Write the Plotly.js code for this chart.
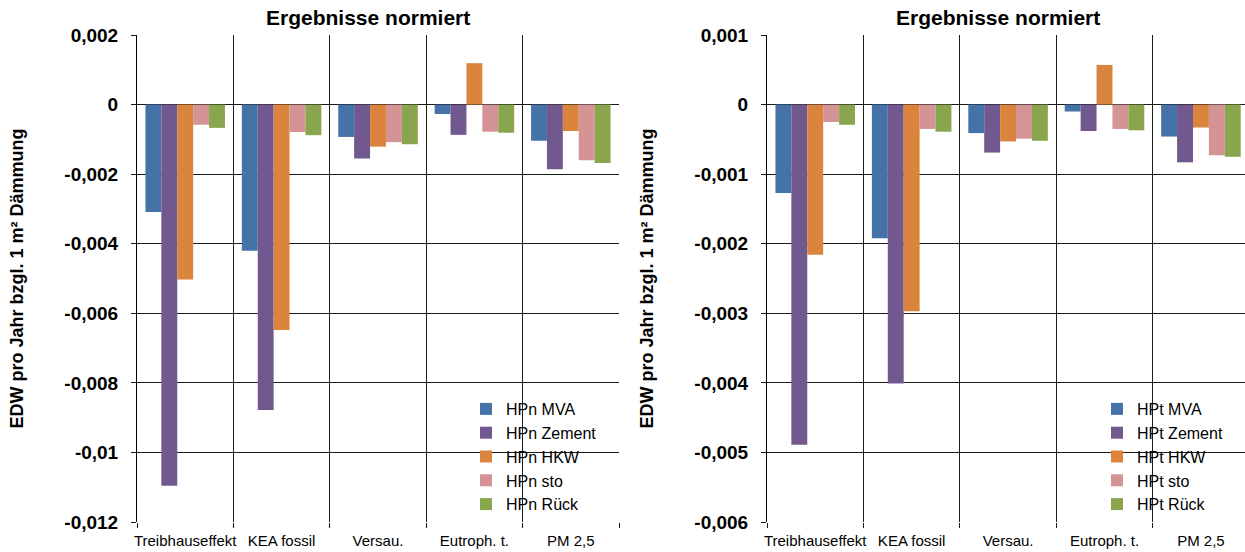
<!DOCTYPE html>
<html>
<head>
<meta charset="utf-8">
<script src="https://cdn.plot.ly/plotly-3.0.1.min.js"></script>
<style>html,body{margin:0;padding:0;background:#fff;}#chart{width:1245px;height:552px;}</style>
</head>
<body>
<div id="chart"></div>
<script>
const categories = ['Treibhauseffekt', 'KEA fossil', 'Versau.', 'Eutroph. t.', 'PM 2,5'];

// Left chart (HPn)
const namesN = ['HPn MVA', 'HPn Zement', 'HPn HKW', 'HPn sto', 'HPn Rück'];
const mvaN    = [-0.00309, -0.00420, -0.00093, -0.00027, -0.00104];
const zementN = [-0.01096, -0.00878, -0.00155, -0.00087, -0.00186];
const hkwN    = [-0.00503, -0.00648, -0.00121,  0.00119, -0.00076];
const stoN    = [-0.00058, -0.00079, -0.00108, -0.00078, -0.00160];
const rueckN  = [-0.00067, -0.00088, -0.00114, -0.00081, -0.00168];

// Right chart (HPt)
const namesT = ['HPt MVA', 'HPt Zement', 'HPt HKW', 'HPt sto', 'HPt Rück'];
const mvaT    = [-0.00127, -0.00192, -0.00041, -0.00010, -0.00046];
const zementT = [-0.00489, -0.00401, -0.00069, -0.00038, -0.00083];
const hkwT    = [-0.00216, -0.00297, -0.00053,  0.00057, -0.00033];
const stoT    = [-0.00025, -0.00035, -0.00049, -0.00035, -0.00073];
const rueckT  = [-0.00029, -0.00039, -0.00052, -0.00037, -0.00075];

// Tick labels
const tickValsN = [0.002, 0, -0.002, -0.004, -0.006, -0.008, -0.01, -0.012];
const tickTextN = ['0,002', '0', '-0,002', '-0,004', '-0,006', '-0,008', '-0,01', '-0,012'];
const tickValsT = [0.001, 0, -0.001, -0.002, -0.003, -0.004, -0.005, -0.006];
const tickTextT = ['0,001', '0', '-0,001', '-0,002', '-0,003', '-0,004', '-0,005', '-0,006'];

const chartTitle = 'Ergebnisse normiert';
const yTitle = 'EDW pro Jahr bzgl. 1 m² Dämmung';

const colors = ['#4572A7', '#71588F', '#DB843D', '#D49394', '#89A54E'];
const FONT = 'Liberation Sans, Arial, sans-serif';

const seriesN = [mvaN, zementN, hkwN, stoN, rueckN];
const seriesT = [mvaT, zementT, hkwT, stoT, rueckT];

const traces = [];
seriesN.forEach((vals, i) => {
  traces.push({
    type: 'bar', x: categories, y: vals, name: namesN[i],
    xaxis: 'x', yaxis: 'y', legend: 'legend',
    marker: {color: colors[i]}
  });
});
seriesT.forEach((vals, i) => {
  traces.push({
    type: 'bar', x: categories, y: vals, name: namesT[i],
    xaxis: 'x2', yaxis: 'y2', legend: 'legend2',
    marker: {color: colors[i]}
  });
});

const L = 137, W = 1245, PW = W - L;
const px = v => (v - L) / PW;

function xAxis(domain, range) {
  return {
    domain: domain, type: 'category', range: range, tickson: 'boundaries',
    showgrid: true, gridcolor: '#1a1a1a', gridwidth: 1,
    ticks: 'outside', ticklen: 5, tickcolor: '#1a1a1a', tickangle: 0,
    ticklabelstandoff: 8,
    showline: false, zeroline: false, fixedrange: true, automargin: false,
    tickfont: {family: FONT, size: 15, color: '#000'}
  };
}
function yAxis(range, vals, text, anchor) {
  return {
    range: range, tickvals: vals, ticktext: text, anchor: anchor,
    showgrid: true, gridcolor: '#1a1a1a', gridwidth: 1,
    zeroline: true, zerolinecolor: '#1a1a1a', zerolinewidth: 1,
    showline: true, linecolor: '#000', linewidth: 1,
    ticks: 'outside', ticklen: 5, tickcolor: '#1a1a1a', ticklabelstandoff: 9,
    tickfont: {family: FONT, size: 19, color: '#000', weight: 'bold'},
    title: {text: yTitle, standoff: 36, font: {family: FONT, size: 18, color: '#000', weight: 'bold'}},
    automargin: false, fixedrange: true
  };
}

const layout = {
  width: 1245, height: 552,
  margin: {l: L, r: 0, t: 35, b: 30, pad: 0},
  paper_bgcolor: '#fff', plot_bgcolor: '#fff',
  barmode: 'group', bargap: 0.175, bargroupgap: 0,
  font: {family: FONT, color: '#000'},
  xaxis: xAxis([0, px(619)], [-0.5, 4.5]),
  yaxis: yAxis([-0.012, 0.002], tickValsN, tickTextN, 'x'),
  xaxis2: xAxis([px(767), 1], [-0.5, 4.457]),
  yaxis2: yAxis([-0.006, 0.001], tickValsT, tickTextT, 'x2'),
  legend: {
    x: px(466), y: (522 - 392) / 487, xanchor: 'left', yanchor: 'top',
    bgcolor: 'rgba(0,0,0,0)', font: {family: FONT, size: 16, color: '#000'}
  },
  legend2: {
    x: px(1097), y: (522 - 392) / 487, xanchor: 'left', yanchor: 'top',
    bgcolor: 'rgba(0,0,0,0)', font: {family: FONT, size: 16, color: '#000'}
  },
  annotations: [
    {text: chartTitle, xref: 'paper', yref: 'paper', x: px(368), y: (522 - 18) / 487,
     xanchor: 'center', yanchor: 'middle', showarrow: false,
     font: {family: FONT, size: 21, color: '#000', weight: 'bold'}},
    {text: chartTitle, xref: 'paper', yref: 'paper', x: px(998), y: (522 - 18) / 487,
     xanchor: 'center', yanchor: 'middle', showarrow: false,
     font: {family: FONT, size: 21, color: '#000', weight: 'bold'}}
  ],
  showlegend: true
};

Plotly.newPlot('chart', traces, layout, {displayModeBar: false, staticPlot: true});
</script>
</body>
</html>
